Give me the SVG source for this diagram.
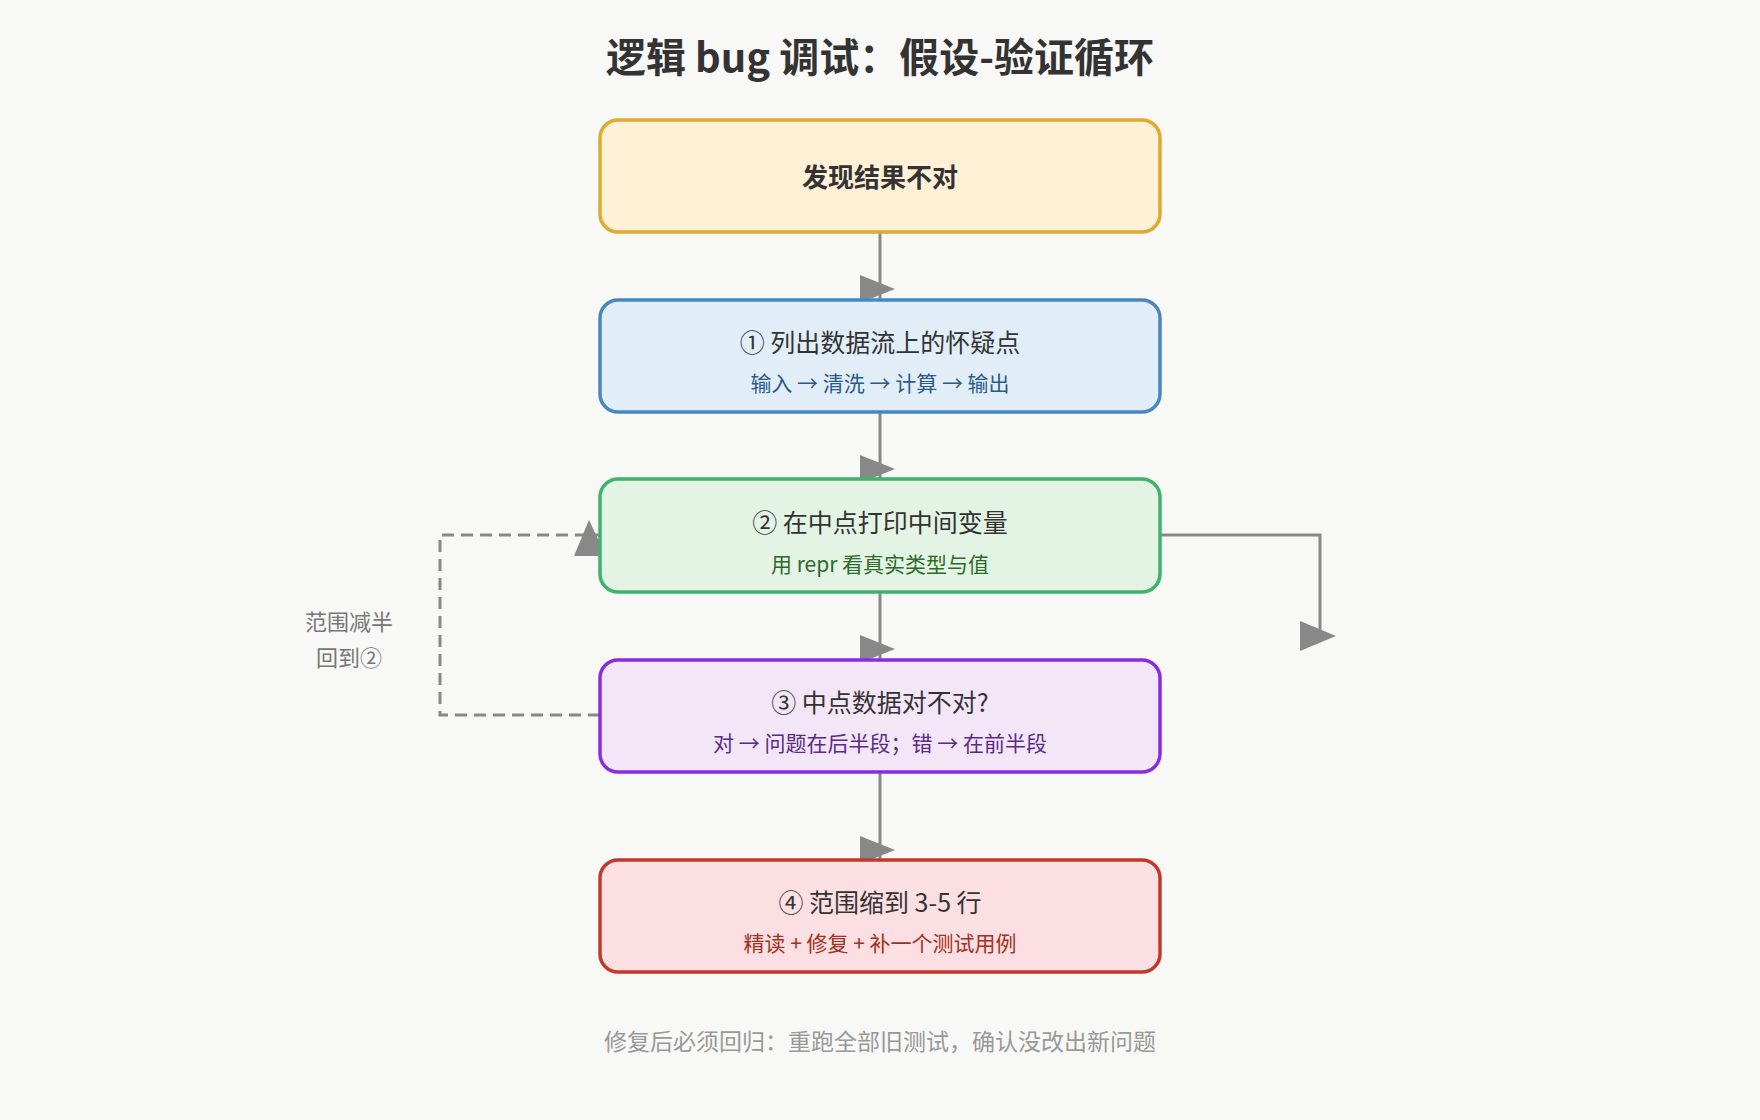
<svg xmlns="http://www.w3.org/2000/svg" width="1760" height="1120" viewBox="0 0 1760 1120">
<style>
text{font-family:"Noto Sans CJK SC","Noto Sans",sans-serif;text-anchor:middle;}
.t{font-size:25px;fill:#333;}
.s{font-size:21px;}
.box{stroke-width:3.5;}
.ln{stroke:#888;stroke-width:3;fill:none;}
.ah{fill:#888;}
</style>
<rect width="1760" height="1120" fill="#f8f8f6"/>
<text x="880" y="72" style="font-size:40px;font-weight:bold;fill:#333">逻辑 bug 调试：假设-验证循环</text>
<g id="connectors">
<line class="ln" x1="880" y1="232" x2="880" y2="300"/>
<polygon class="ah" points="860,275 860,303 895,289"/>
<line class="ln" x1="880" y1="412" x2="880" y2="479"/>
<polygon class="ah" points="860,455 860,483 895,469"/>
<line class="ln" x1="880" y1="592" x2="880" y2="660"/>
<polygon class="ah" points="860,635 860,663 895,649"/>
<line class="ln" x1="880" y1="772" x2="880" y2="860"/>
<polygon class="ah" points="860,836 860,864 895,850"/>
<polyline class="ln" points="1160,535 1320,535 1320,636"/>
<polygon class="ah" points="1300,621 1300,651 1336,636"/>
<polyline class="ln" points="600,715 440,715 440,535 600,535" stroke-dasharray="12,7"/>
<polygon class="ah" points="574,556 606,556 589,520"/>
<text x="349" y="630" style="font-size:22px;fill:#777">范围减半</text>
<text x="349" y="666" style="font-size:22px;fill:#777">回到②</text>
</g>
<g id="n0"><rect class="box" x="600" y="120" width="560" height="112" rx="18" fill="#fff0d6" stroke="#e0a82e"/>
<text x="880" y="187" style="font-size:26px;font-weight:bold;fill:#333">发现结果不对</text></g>
<g id="n1"><rect class="box" x="600" y="300" width="560" height="112" rx="18" fill="#e1eef8" stroke="#4a86c0"/>
<text class="t" x="880" y="352">① 列出数据流上的怀疑点</text>
<text class="s" x="880" y="391" fill="#2a5a8a">输入 → 清洗 → 计算 → 输出</text></g>
<g id="n2"><rect class="box" x="600" y="479" width="560" height="113" rx="18" fill="#e3f3e4" stroke="#3db36b"/>
<text class="t" x="880" y="532">② 在中点打印中间变量</text>
<text class="s" x="880" y="572" fill="#2e6b2a">用 repr 看真实类型与值</text></g>
<g id="n3"><rect class="box" x="600" y="660" width="560" height="112" rx="18" fill="#f3e6f6" stroke="#8a2be2"/>
<text class="t" x="880" y="712">③ 中点数据对不对?</text>
<text class="s" x="880" y="751" fill="#5a2a8a">对 → 问题在后半段；错 → 在前半段</text></g>
<g id="n4"><rect class="box" x="600" y="860" width="560" height="112" rx="18" fill="#fbdfe2" stroke="#c0392b"/>
<text class="t" x="880" y="912">④ 范围缩到 3-5 行</text>
<text class="s" x="880" y="951" fill="#a33020">精读 + 修复 + 补一个测试用例</text></g>
<text x="880" y="1050" style="font-size:23px;fill:#999">修复后必须回归：重跑全部旧测试，确认没改出新问题</text>
</svg>
